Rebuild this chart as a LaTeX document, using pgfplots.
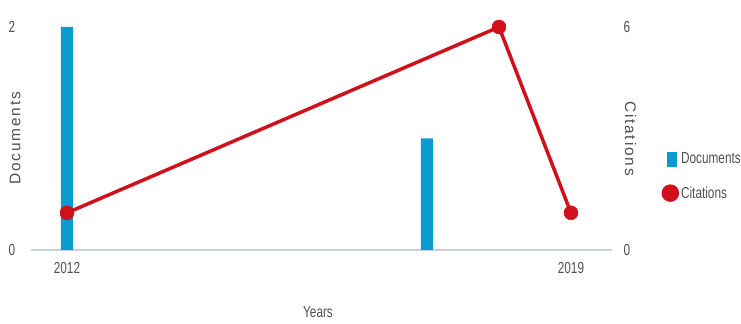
\documentclass[border=0pt]{standalone}
\usepackage{pgfplots}
\pgfplotsset{compat=1.18}
\usepackage{fontspec}
\setmainfont{Liberation Sans}[FakeStretch=0.74]
\newfontfamily\ylabfont{Liberation Sans}[LetterSpace=12]
\definecolor{docBlue}{RGB}{8,156,208}
\definecolor{citeRed}{RGB}{208,16,27}
\definecolor{baseGray}{RGB}{200,210,222}
\definecolor{txtGray}{RGB}{80,80,80}
\begin{document}
\begin{tikzpicture}
\path[use as bounding box] (0,0) rectangle (741bp,324bp);
\pgfplotsset{
  every axis/.append style={
    scale only axis, width=581bp, height=223bp,
    at={(31bp,74bp)}, anchor=south west,
    xmin=2011.5, xmax=2019.57,
    font=\fontsize{16}{19}\selectfont,
    /pgf/number format/assume math mode=true,
    /pgf/number format/1000 sep={},
    tick style={draw=none},
    ticklabel style={text=txtGray},
    label style={text=txtGray},
  }
}
\begin{axis}[
  ymin=0, ymax=2,
  axis x line*=bottom, axis y line*=left,
  y axis line style={draw=none},
  x axis line style={draw=baseGray, line width=1.5bp},
  xtick={2012,2019},
  ytick={0,2},
  yticklabel style={anchor=center, xshift=-19bp},
  xticklabel style={anchor=center, yshift=-18bp},
  ylabel={Documents},
  ylabel style={at={(axis description cs:-0.0275,0.5)}, anchor=center, font=\ylabfont\fontsize{15.5}{18}\selectfont},
  xlabel={Years},
  xlabel style={at={(axis description cs:0.494,0)}, anchor=center, yshift=-62bp},
]
\addplot[ybar, bar width=12bp, fill=docBlue, draw=none] coordinates {(2012,2) (2017,1)};
\end{axis}
\begin{axis}[
  ymin=0, ymax=6,
  hide x axis,
  axis y line*=right,
  y axis line style={draw=none},
  ytick={0,6},
  yticklabel style={anchor=center, xshift=15bp},
  ylabel={Citations},
  ylabel style={at={(axis description cs:1.032,0.5)}, anchor=center, rotate=180, font=\ylabfont\fontsize{15.5}{18}\selectfont},
  legend style={at={(1.085,0.33)}, anchor=west, draw=none, fill=none,
    font=\fontsize{16}{19}\selectfont, text=txtGray, row sep=17bp, inner sep=0pt},
  legend cell align=left,
]
\addlegendimage{legend image code/.code={\fill[docBlue] (0bp,-7bp) rectangle (9bp,7bp);}}
\addlegendentry{Documents}
\addplot[citeRed, line width=3.5bp, mark=*, mark size=7bp, mark options={fill=citeRed, draw=citeRed, line width=0.5bp},
  legend image code/.code={\draw[citeRed, line width=3bp] (-2bp,0) -- (9bp,0); \fill[citeRed] (3.5bp,0) circle (7bp);}]
  coordinates {(2012,1) (2018,6) (2019,1)};
\addlegendentry{Citations}
\end{axis}
\end{tikzpicture}
\end{document}
